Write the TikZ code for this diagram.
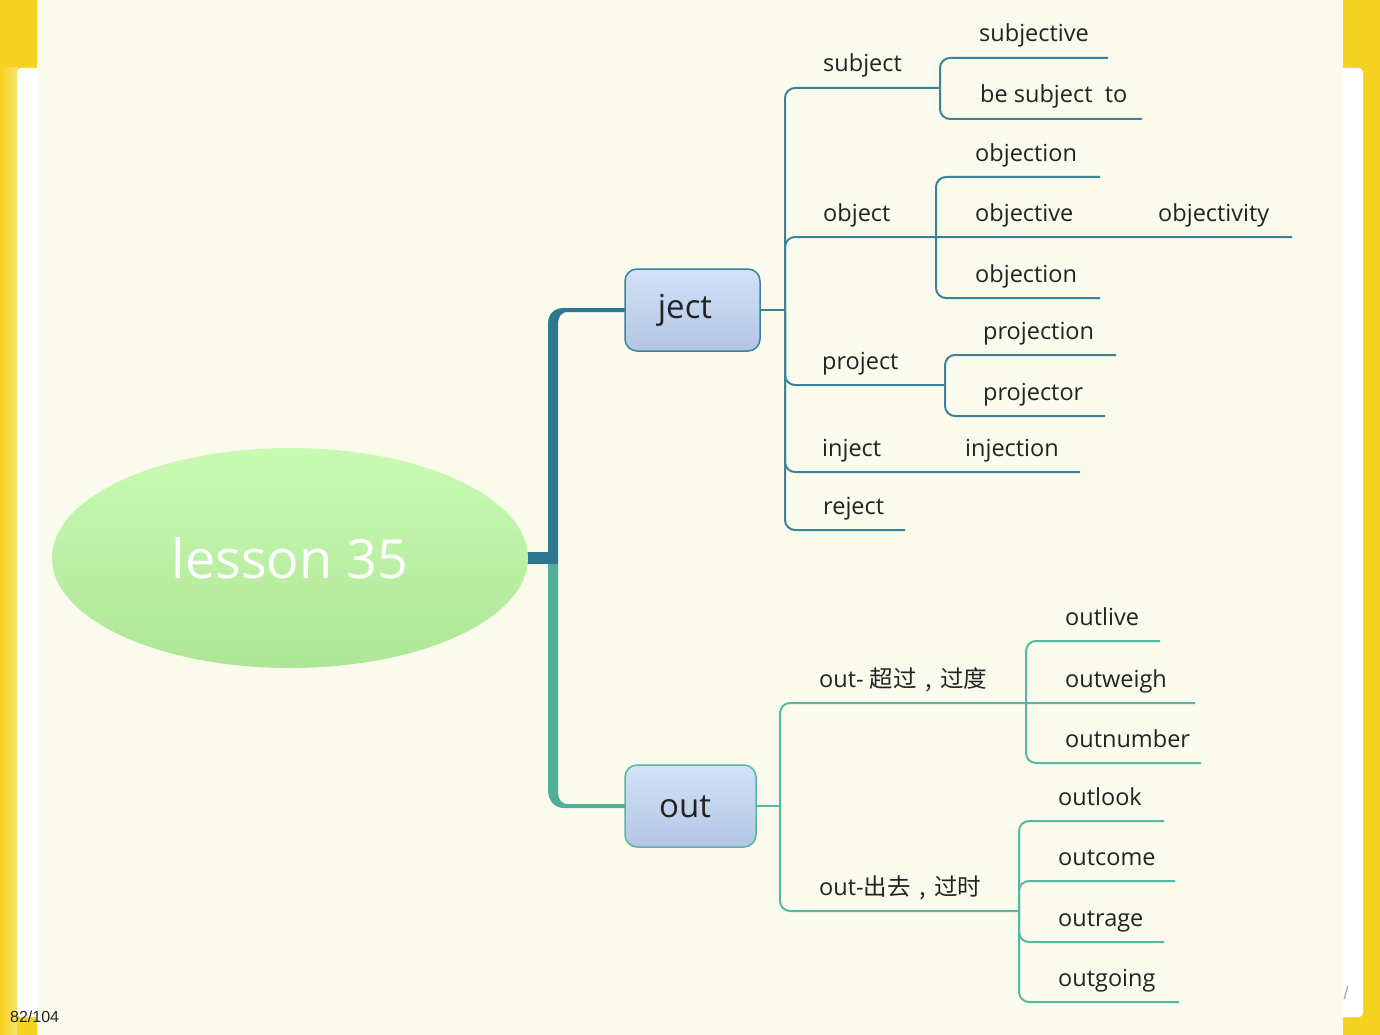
\documentclass[tikz,border=0pt]{standalone}
\usepackage{fontspec}
\setmainfont{Open Sans}
\newfontfamily\cjk{Noto Sans CJK SC}
\newfontfamily\arialf{Liberation Sans}
\usetikzlibrary{shapes.geometric}
\definecolor{cream}{HTML}{FAFBEC}
\definecolor{ylw}{HTML}{F6D220}
\definecolor{ylwlight}{HTML}{F9E36E}
\definecolor{jline}{HTML}{3D8398}
\definecolor{jthick}{HTML}{2E7790}
\definecolor{oline}{HTML}{58B7A3}
\definecolor{othick}{HTML}{4FAF99}
\definecolor{txt}{HTML}{232323}
\definecolor{boxtop}{HTML}{D3E2F8}
\definecolor{boxbot}{HTML}{B2C5E3}
\definecolor{elltop}{HTML}{C9FAB3}
\definecolor{ellbot}{HTML}{AEE697}
\newcommand{\cjkcomma}{\hbox to 23.5pt{\hss{\cjk ,}\hss}}
\begin{document}
\begin{tikzpicture}[x=1pt,y=-1pt,
  lbl/.style={anchor=base west, inner sep=0pt, font=\fontsize{23.5}{27}\selectfont, text=txt},
  jl/.style={draw=jline, line width=2pt, rounded corners=10pt},
  ol/.style={draw=oline, line width=2pt, rounded corners=10pt},
  bx/.style={rectangle, rounded corners=12pt, top color=boxtop, bottom color=boxbot,
    line width=1.5pt, inner sep=0pt},
  bxtext/.style={inner sep=0pt, font=\fontsize{33}{36}\selectfont, text=txt}]
\useasboundingbox (0,0) rectangle (1380,1035);
% frame
\fill[ylw] (0,0) rectangle (1380,1035);
\shade[left color=ylw, right color=ylwlight] (0,68) rectangle (17,1035);
\fill[white, rounded corners=4pt] (17,68) rectangle (1363,1017);
\fill[cream] (37,0) rectangle (1343,1035);
\node[anchor=base west, inner sep=0pt, font=\arialf\fontsize{16}{18}\selectfont, text=black!85] (pg) at (10,1022) {82/104};
\node[inner sep=0pt, font=\arialf\fontsize{18}{20}\selectfont, text=gray!70] (sl) at (1346,993) {/};
% trunk
\fill[jthick] (500,552) rectangle (558,564);
\fill[jthick] (548,564) -- (548,324) .. controls (548,314) and (554,308) .. (564,308) -- (626,308) -- (626,312) -- (568,312) .. controls (561,312) and (558,317) .. (558,324) -- (558,564) -- cycle;
\fill[othick] (548,564) -- (548,790) .. controls (548,800) and (554,808) .. (564,808) -- (626,808) -- (626,804) -- (568,804) .. controls (561,804) and (558,799) .. (558,792) -- (558,564) -- cycle;
% root
\node[ellipse, minimum width=476pt, minimum height=220pt, inner sep=0pt, top color=elltop, bottom color=ellbot,
  text=white, font=\fontsize{54}{60}\selectfont] (root) at (290,558) {lesson 35};
% boxes
\node[bx, draw=jline, minimum width=135pt, minimum height=82pt] (ject) at (692.5,310) {};
\node[bxtext] (ject-t) at (685,310) {ject};
\node[bx, draw=oline, minimum width=131pt, minimum height=82pt] (out) at (690.5,806) {};
\node[bxtext] (out-t) at (685,807) {out};
% ject branches
\coordinate (jt) at (785,310);
\coordinate (sj) at (940,88);
\coordinate (oj) at (936,237);
\coordinate (pj) at (945,385);
\coordinate (e-objectivity) at (1292,237);
\coordinate (e-inject) at (1080,472);
\coordinate (e-reject) at (905,530);
\coordinate (e-subjective) at (1108,58);
\coordinate (e-besubj) at (1142,119);
\coordinate (e-objection1) at (1100,177);
\coordinate (e-objection2) at (1100,298);
\coordinate (e-projection) at (1116,355);
\coordinate (e-projector) at (1105,416);
\draw[jl] (ject.east) -- (jt);
\draw[jl] (jt) |- (sj);
\draw[jl] (jt) |- (e-objectivity);
\draw[jl] (jt) |- (pj);
\draw[jl] (jt) |- (e-inject);
\draw[jl] (jt) |- (e-reject);
\draw[jl] (sj) |- (e-subjective);
\draw[jl] (sj) |- (e-besubj);
\draw[jl] (oj) |- (e-objection1);
\draw[jl] (oj) |- (e-objection2);
\draw[jl] (pj) |- (e-projection);
\draw[jl] (pj) |- (e-projector);
% out branches
\coordinate (ot) at (780,806);
\coordinate (o1) at (1026,703);
\coordinate (o2) at (1019,911);
\coordinate (e-outweigh) at (1195,703);
\coordinate (e-outlive) at (1160,641);
\coordinate (e-outnumber) at (1201,763);
\coordinate (e-outlook) at (1164,821);
\coordinate (e-outcome) at (1175,881);
\coordinate (e-outrage) at (1164,942);
\coordinate (e-outgoing) at (1179,1002);
\draw[ol] (out.east) -- (ot);
\draw[ol] (ot) |- (e-outweigh);
\draw[ol] (ot) |- (o2);
\draw[ol] (o1) |- (e-outlive);
\draw[ol] (o1) |- (e-outnumber);
\draw[ol] (o2) |- (e-outlook);
\draw[ol] (o2) |- (e-outcome);
\draw[ol] (o2) |- (e-outrage);
\draw[ol] (o2) |- (e-outgoing);
% labels
\node[lbl] (t-subject) at (823,72) {subject};
\node[lbl] (t-object) at (823,221) {object};
\node[lbl] (t-project) at (822,369) {project};
\node[lbl] (t-inject) at (822,456) {inject};
\node[lbl] (t-reject) at (823,514) {reject};
\node[lbl] (t-subjective) at (979,42) {subjective};
\node[lbl] (t-besubj) at (980,103) {be subject\ \ to};
\node[lbl] (t-objection1) at (975,161) {objection};
\node[lbl] (t-objective) at (975,221) {objective};
\node[lbl] (t-objectivity) at (1158,221) {objectivity};
\node[lbl] (t-objection2) at (975,282) {objection};
\node[lbl] (t-projection) at (983,339) {projection};
\node[lbl] (t-projector) at (983,400) {projector};
\node[lbl] (t-injection) at (965,456) {injection};
\node[lbl] (t-out1) at (819,687) {out- {\cjk 超过}\cjkcomma{\cjk 过度}};
\node[lbl] (t-out2) at (819,895) {out-{\cjk 出去}\cjkcomma{\cjk 过时}};
\node[lbl] (t-outlive) at (1065,625) {outlive};
\node[lbl] (t-outweigh) at (1065,687) {outweigh};
\node[lbl] (t-outnumber) at (1065,747) {outnumber};
\node[lbl] (t-outlook) at (1058,805) {outlook};
\node[lbl] (t-outcome) at (1058,865) {outcome};
\node[lbl] (t-outrage) at (1058,926) {outrage};
\node[lbl] (t-outgoing) at (1058,986) {outgoing};
\end{tikzpicture}
\end{document}
